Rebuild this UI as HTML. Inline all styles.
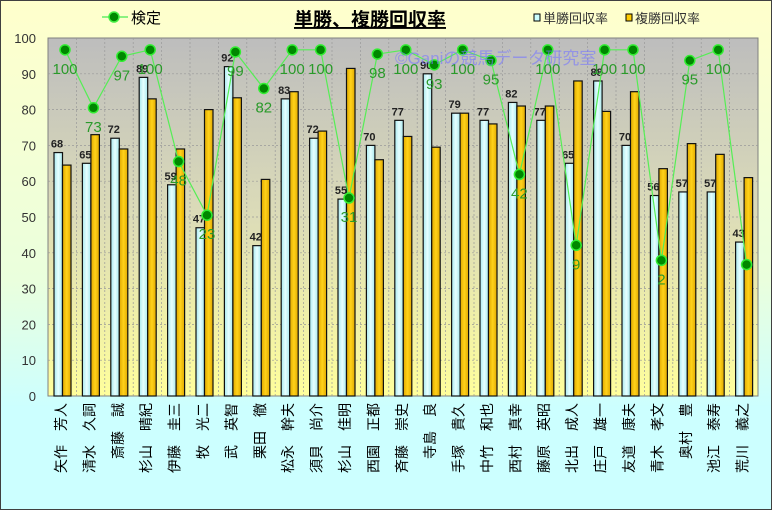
<!DOCTYPE html>
<html><head><meta charset="utf-8"><style>
html,body{margin:0;padding:0;width:772px;height:510px;overflow:hidden}
svg{display:block;font-family:"Liberation Sans","Noto Sans CJK JP",sans-serif}
</style></head><body>
<svg id="c" width="772" height="510" xmlns="http://www.w3.org/2000/svg">
<defs>
<linearGradient id="bg" x1="0" y1="0" x2="0" y2="1"><stop offset="0" stop-color="#ffffcc"/><stop offset="0.55" stop-color="#eaffdd"/><stop offset="0.8" stop-color="#ccffff"/><stop offset="1" stop-color="#ccffff"/></linearGradient>
<linearGradient id="pa" x1="0" y1="0" x2="0" y2="1"><stop offset="0" stop-color="#bdbdbd"/><stop offset="0.5" stop-color="#dcdcb8"/><stop offset="1" stop-color="#ffff9c"/></linearGradient>
<linearGradient id="bl" x1="0" y1="0" x2="1" y2="0"><stop offset="0" stop-color="#a8e8ee"/><stop offset="0.5" stop-color="#e6ffff"/><stop offset="1" stop-color="#a8e8ee"/></linearGradient>
<linearGradient id="gd" x1="0" y1="0" x2="1" y2="0"><stop offset="0" stop-color="#e0a800"/><stop offset="0.5" stop-color="#ffd21a"/><stop offset="1" stop-color="#e0a800"/></linearGradient>
</defs>
<rect x="0.5" y="0.5" width="771" height="509" fill="url(#bg)" stroke="#404040"/>
<rect x="48" y="38" width="710" height="358" fill="url(#pa)" stroke="#808080"/>
<g id="g"></g>
<text x="370" y="26" font-size="19" font-weight="bold" text-anchor="middle" fill="#000" text-decoration="underline">単勝、複勝回収率</text>
<line x1="102" y1="17" x2="128" y2="17" stroke="#66ee66" stroke-width="1.5"/>
<circle cx="114" cy="17" r="5" fill="#008800" stroke="#44ee44" stroke-width="1.5"/>
<text x="131" y="23" font-size="15" fill="#000">検定</text>
<rect x="534" y="14" width="6" height="7" fill="#ccffff" stroke="#000"/>
<text x="543" y="23" font-size="13" fill="#333">単勝回収率</text>
<rect x="626" y="14" width="6" height="7" fill="#ffcc00" stroke="#000"/>
<text x="635" y="23" font-size="13" fill="#333">複勝回収率</text>
<text x="395" y="64" font-size="17" fill="#7777ff" fill-opacity="0.6">©Ganiの競馬データ研究室</text>
</svg>
<script>
var names=["矢作　芳人","清水　久詞","斎藤　誠","杉山　晴紀","伊藤　圭三","牧　光二","武　英智","栗田　徹","松永　幹夫","須貝　尚介","杉山　佳明","西園　正都","斉藤　崇史","寺島　良","手塚　貴久","中竹　和也","西村　真幸","藤原　英昭","北出　成人","庄戸　雄一","友道　康夫","青木　孝文","奥村　豊","池江　泰寿","荒川　義之"];
var a=[68,65,72,89,59,47,92,42,83,72,55,70,77,90,79,77,82,77,65,88,70,56,57,57,43];
var b=[64.5,73,69,83,69,80,83.3,60.5,85,74,91.5,66,72.5,69.5,79,76,81,81,88,79.5,85,63.5,70.5,67.5,61];
var k=[100,73,97,100,48,23,99,82,100,100,31,98,100,93,100,95,42,100,9,100,100,2,95,100,0];
var s="",L=48,T=38,B=396,W=28.4,u=3.58;
function y(v){return B-v*u}
for(var i=1;i<10;i++){s+='<line x1="48" x2="758" y1="'+y(i*10)+'" y2="'+y(i*10)+'" stroke="#999" stroke-dasharray="2,2" stroke-width="0.7"/>';}
for(var i=1;i<25;i++){var x=L+i*W;s+='<line y1="38" y2="396" x1="'+x+'" x2="'+x+'" stroke="#999" stroke-dasharray="2,2" stroke-width="0.7"/>';}
for(var i=0;i<=10;i++){s+='<text x="36" y="'+(y(i*10)+5)+'" font-size="13" text-anchor="end" fill="#333">'+(i*10)+'</text>';}
var pts=[];
for(var i=0;i<25;i++){var x0=L+i*W;
s+='<rect x="'+(x0+6)+'" y="'+y(a[i])+'" width="8.5" height="'+(a[i]*u)+'" fill="url(#bl)" stroke="#111" stroke-width="1.2"/>';
s+='<rect x="'+(x0+14.5)+'" y="'+y(b[i])+'" width="8.5" height="'+(b[i]*u)+'" fill="url(#gd)" stroke="#111" stroke-width="1.2"/>';
s+='<text x="'+(x0+9)+'" y="'+(y(a[i])-5)+'" font-size="11" font-weight="bold" text-anchor="middle" fill="#222">'+a[i]+'</text>';
s+='<text transform="translate('+(x0+18)+',403) rotate(-90)" font-size="14" text-anchor="end" fill="#000">'+names[i]+'</text>';
pts.push([x0+17,y(36.7+0.6*k[i])]);}
s+='<polyline fill="none" stroke="#55ee55" stroke-width="1.2" points="'+pts.map(function(p){return p.join(",")}).join(" ")+'"/>';
for(var i=0;i<25;i++){var p=pts[i];
s+='<circle cx="'+p[0]+'" cy="'+p[1]+'" r="5" fill="#008800" stroke="#33ee33" stroke-width="1.5"/>';
if(i<24)s+='<text x="'+p[0]+'" y="'+(p[1]+24)+'" font-size="15" text-anchor="middle" fill="#2a9a2a">'+k[i]+'</text>';}
document.getElementById("g").innerHTML=s;
</script>
</body></html>
